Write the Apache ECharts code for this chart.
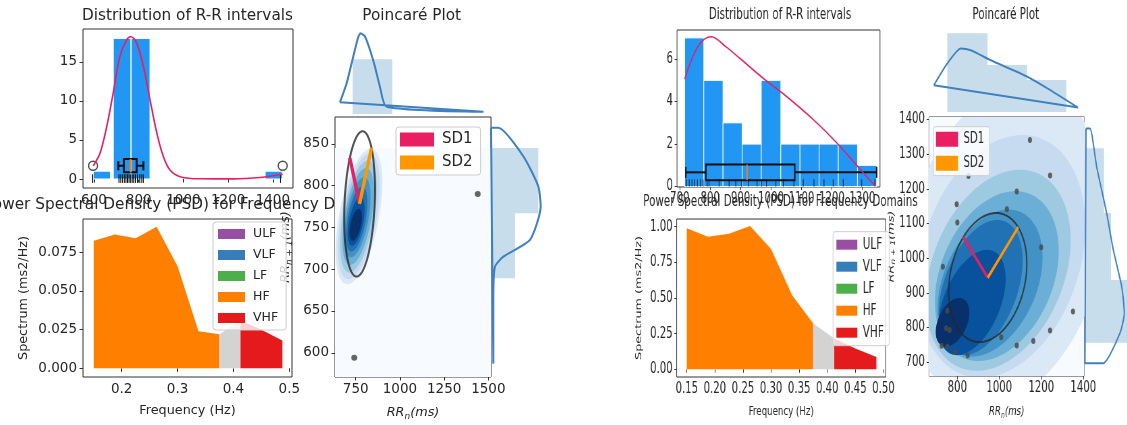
<!DOCTYPE html>
<html>
<head>
<meta charset="utf-8">
<script src="https://cdn.jsdelivr.net/npm/echarts@6.0.0/dist/echarts.min.js"></script>
<style>
    html, body { margin: 0; padding: 0; background: #fff; overflow: hidden; }
    #left  { position: absolute; left: 0; top: 0; width: 600px; height: 425px; }
    /* the right figure is squeezed horizontally, like in the reference */
    #right { position: absolute; left: 600px; top: 0; width: 781px; height: 425px;
             transform: scaleX(0.675); transform-origin: 0 0; }
</style>
</head>
<body>
<div id="left"></div>
<div id="right"></div>
<script>
// ---------- shared ----------
var titles    = ['Distribution of R-R intervals', 'Power Spectral Density (PSD) for Frequency Domains', 'Poincaré Plot'];
var bandNames = ['ULF', 'VLF', 'LF', 'HF', 'VHF'];
var psdFreq   = [0.15, 0.1875, 0.225, 0.2625, 0.30, 0.3375, 0.375, 0.4125, 0.45, 0.4875];
var hfRange   = [0.15, 0.375];
var gapRange  = [0.375, 0.4125];
var vhfRange  = [0.4125, 0.4875];

// ---------- left recording ----------
var aHistBins   = [[597, 674], [686, 766], [766, 851], [1365, 1442]];
var aHistCounts = [1, 18, 18, 1];
var aHistKdeX   = [597, 627, 657, 686, 716, 746, 764, 791, 821, 851, 881, 910, 940, 985, 1074, 1223, 1343, 1444];
var aHistKdeY   = [1.7, 3.3, 6.7, 11.0, 15.7, 17.8, 18.2, 17.4, 14.4, 10.1, 5.9, 2.9, 1.15, 0.3, 0.03, 0.02, 0.2, 0.6];
var aBoxStats   = [709, 734, 764, 791, 821];   // whisker lo, q1, median, q3, whisker hi
var aOutliers   = [596, 1444];
var aRug        = [594, 712, 720, 728, 736, 743, 750, 757, 764, 771, 778, 786, 795, 805, 814, 821, 1434];
var aPsd        = [0.0825, 0.0865, 0.084, 0.0915, 0.066, 0.024, 0.022, 0.031, 0.025, 0.018];
var aRRn        = [742, 1440];
var aRRn1       = [594, 790];
var aSdCenter   = [772, 778];
var aSd         = [78, 95];                    // SD1, SD2
var aLevCx      = [769, 768, 766, 764, 760, 756, 753, 750];
var aLevCy      = [763, 763, 763, 763, 762, 760, 757, 753];
var aLevSx      = [132, 119, 104, 89, 74, 60, 47, 35];
var aLevSy      = [81, 75, 67, 58, 48, 39, 29, 19];
var aLevRho     = [0.5, 0.5, 0.5, 0.5, 0.5, 0.5, 0.5, 0.5];
var aKdeBox     = [633, 1515, 571, 845];
var aTopBins    = [[733, 957]];
var aTopH       = [54.7];
var aTopKdeX    = [661, 699, 736, 765, 778, 803, 831, 859, 887, 925, 1472, 661];
var aTopKdeH    = [11.7, 30.7, 57.3, 77.3, 80.7, 77.3, 64, 47.3, 27.3, 7.3, 2.3, 11.7];
var aSideBins   = [[767, 845], [689, 767]];
var aSideW      = [47.3, 24];
var aSideKdeY   = [869, 869, 835, 799, 775, 735, 715, 703, 663, 587, 869];
var aSideKdeW   = [0, 7.3, 32.3, 47.3, 49.7, 39, 12.3, 4, 2.3, 2.3, 0];
var aHistXTicks = [600, 800, 1000, 1200, 1400];
var aHistYTicks = [0, 5, 10, 15];
var aPsdXTicks  = [0.2, 0.3, 0.4, 0.5];
var aPsdYTicks  = [0, 0.025, 0.05, 0.075];
var aPoiXTicks  = [750, 1000, 1250, 1500];
var aPoiYTicks  = [600, 650, 700, 750, 800, 850];

// ---------- right recording ----------
var bHistBins   = [[716, 779], [779, 842], [842, 905], [905, 968], [968, 1032], [1032, 1095], [1095, 1158], [1158, 1221], [1221, 1284], [1284, 1347]];
var bHistCounts = [7, 5, 3, 2, 5, 2, 2, 2, 2, 1];
var bHistKdeX   = [716, 760, 804, 850, 897, 974, 1051, 1139, 1216, 1293, 1342];
var bHistKdeY   = [5.06, 6.6, 7.05, 6.6, 6.04, 5.1, 4.24, 3.15, 2.06, 0.81, 0.03];
var bBoxStats   = [720, 786, 921, 1078, 1347];
var bOutliers   = [];
var bRug        = [722, 731, 740, 749, 758, 768, 777, 790, 796, 829, 862, 884, 903, 925, 954, 969, 985, 1016, 1040, 1075, 1106, 1141, 1174, 1204, 1237, 1298, 1341];
var bPsd        = [0.99, 0.93, 0.95, 1.005, 0.843, 0.52, 0.322, 0.216, 0.145, 0.087];
var bRRn        = [1146, 1242, 853, 1083, 797, 1036, 800, 1199, 731, 1351, 752, 747, 763, 1242, 1009, 1162, 1083, 725, 752, 789, 849];
var bRRn1       = [1341, 1238, 1237, 1192, 1155, 1141, 1103, 1031, 975, 846, 848, 798, 793, 791, 772, 761, 748, 747, 745, 729, 719];
var bSdCenter   = [945, 944];
var bSd         = [165, 205];
var bLevCx      = [1030, 1010, 995, 988, 956, 911, 870, 777];
var bLevCy      = [1040, 1005, 965, 948, 928, 915, 872, 815];
var bLevSx      = [480, 400, 345, 295, 250, 200, 160, 80];
var bLevSy      = [460, 350, 290, 245, 212, 195, 152, 70];
var bLevRho     = [0.2, 0.25, 0.3, 0.3, 0.35, 0.4, 0.45, 0.4];
var bKdeBox     = [665, 1405, 660, 1407];
var bTopBins    = [[752, 944], [944, 1132], [1132, 1319]];
var bTopH       = [78.7, 47, 32];
var bTopKdeX    = [688, 752, 816, 864, 959, 1119, 1231, 1375, 688];
var bTopKdeH    = [26.7, 48.4, 63.4, 61.7, 51.7, 36.7, 23.4, 4.4, 26.7];
var bSideBins   = [[1130, 1317], [937, 1130], [756, 937]];
var bSideW      = [19, 26, 60];
var bSideKdeY   = [1374, 1374, 1263, 1129, 1024, 918, 841, 784, 697, 697, 1374];
var bSideKdeW   = [1, 5, 11.7, 21.7, 28.3, 36.7, 39.3, 35, 18.3, 0, 1];
var bHistXTicks = [700, 800, 900, 1000, 1100, 1200, 1300];
var bHistYTicks = [0, 2, 4, 6];
var bPsdXTicks  = [0.15, 0.20, 0.25, 0.30, 0.35, 0.40, 0.45, 0.50];
var bPsdYTicks  = [0, 0.25, 0.5, 0.75, 1.0];
var bPoiXTicks  = [800, 1000, 1200, 1400];
var bPoiYTicks  = [700, 800, 900, 1000, 1100, 1200, 1300, 1400];

var FONT = 'DejaVu Sans';
var INK = '#262626';
var BLUES = ['#dbe9f6', '#c6dbef', '#9ecae1', '#6baed6', '#4292c6', '#2171b5', '#08519c', '#08306b'];
var BAND_COLORS = {ULF: '#984ea3', VLF: '#377eb8', LF: '#4daf4a', HF: '#ff7f00', VHF: '#e41a1c'};
var MARG_FILL = 'rgba(31,119,180,0.25)';
var MARG_LINE = '#3f80c0';
var R2 = Math.SQRT1_2;

function zip(xs, ys) { return xs.map(function (x, i) { return [x, ys[i]]; }); }

function vBar(fill, stroke) {
    return function (params, api) {
        var p0 = api.coord([api.value(0), 0]);
        var p1 = api.coord([api.value(1), api.value(2)]);
        return {type: 'rect', shape: {x: p0[0], y: p1[1], width: p1[0] - p0[0], height: p0[1] - p1[1]},
            style: {fill: fill, stroke: stroke, lineWidth: stroke ? 1 : 0}};
    };
}
function hBar(fill) {
    return function (params, api) {
        var p0 = api.coord([0, api.value(0)]);
        var p1 = api.coord([api.value(2), api.value(1)]);
        return {type: 'rect', shape: {x: p0[0], y: p1[1], width: p1[0] - p0[0], height: p0[1] - p1[1]},
            style: {fill: fill}};
    };
}
function bgRect(fill) {
    return function (params, api) {
        var a = api.coord([api.value(0), api.value(3)]);
        var b = api.coord([api.value(1), api.value(2)]);
        return {type: 'rect', shape: {x: a[0], y: a[1], width: b[0] - a[0], height: b[1] - a[1]}, style: {fill: fill}};
    };
}
// filled kde level drawn as a correlated ellipse
function contour(params, api) {
    var cx = api.value(0), cy = api.value(1), sx = api.value(2), sy = api.value(3), rho = api.value(4);
    var q = Math.sqrt(1 - rho * rho), pts = [];
    for (var k = 0; k < 96; k++) {
        var t = k / 96 * 2 * Math.PI;
        pts.push(api.coord([cx + sx * Math.cos(t), cy + sy * (rho * Math.cos(t) + q * Math.sin(t))]));
    }
    return {type: 'polygon', shape: {points: pts}, style: {fill: BLUES[params.dataIndex]}};
}
function sdEllipse(params, api) {
    var cx = api.value(0), cy = api.value(1), s1 = api.value(2), s2 = api.value(3), pts = [];
    for (var k = 0; k <= 120; k++) {
        var t = k / 120 * 2 * Math.PI;
        var a = s2 * Math.cos(t) * R2, b = s1 * Math.sin(t) * R2;
        pts.push(api.coord([cx + a - b, cy + a + b]));
    }
    return {type: 'polyline', shape: {points: pts}, style: {stroke: 'rgba(40,40,40,0.8)', lineWidth: 2, fill: null}};
}
function boxItem(yc, hh) {
    return function (params, api) {
        var lo = api.value(0), q1 = api.value(1), md = api.value(2), q3 = api.value(3), hi = api.value(4);
        var st = {stroke: '#111', lineWidth: 2};
        function seg(x1, y1, x2, y2, s) {
            var a = api.coord([x1, y1]), b = api.coord([x2, y2]);
            return {type: 'line', shape: {x1: a[0], y1: a[1], x2: b[0], y2: b[1]}, style: s || st};
        }
        var a = api.coord([q1, yc + hh]), b = api.coord([q3, yc - hh]);
        return {type: 'group', children: [
            seg(lo, yc, q1, yc), seg(q3, yc, hi, yc),
            seg(lo, yc - hh * 0.7, lo, yc + hh * 0.7), seg(hi, yc - hh * 0.7, hi, yc + hh * 0.7),
            {type: 'rect', shape: {x: a[0], y: a[1], width: b[0] - a[0], height: b[1] - a[1]},
                style: {stroke: '#111', lineWidth: 2, fill: 'none'}},
            seg(md, yc - hh, md, yc + hh, {stroke: '#ff7f0e', lineWidth: 2})
        ]};
    };
}
function rugItem(r0, r1) {
    return function (params, api) {
        var a = api.coord([api.value(0), r0]), b = api.coord([api.value(0), r1]);
        return {type: 'line', shape: {x1: a[0], y1: a[1], x2: b[0], y2: b[1]}, style: {stroke: '#111', lineWidth: 1}};
    };
}

function build(F, L) {
    var grids = [L.hist, L.psd, L.poi, L.top, L.side].map(function (g, i) {
        return {left: g[0], top: g[1], width: g[2], height: g[3], show: i < 3,
            borderColor: '#333', borderWidth: 1, backgroundColor: '#fff',
            containLabel: false, outerBoundsMode: 'none'};
    });
    var nameStyle = {fontFamily: FONT, fontSize: 12.8, color: INK};
    var rrStyle = {fontFamily: FONT, fontSize: 12.8, color: INK, rich: {
        i: {fontFamily: FONT, fontStyle: 'italic', fontSize: 12.8, color: INK, lineHeight: 18},
        s: {fontFamily: FONT, fontStyle: 'italic', fontSize: 9, color: INK, padding: [7, 0, 0, 0], lineHeight: 18}
    }};
    function ax(gi, range, ticks, fmt, isY, name, gap, nstyle) {
        var o = {type: 'value', gridIndex: gi, min: range[0], max: range[1],
            axisLine: {show: false},
            axisTick: {show: true, customValues: ticks, length: 3.5, lineStyle: {color: '#333', width: 1}},
            axisLabel: {customValues: ticks, formatter: fmt, fontFamily: FONT, fontSize: L.tickSize, color: INK, margin: isY ? 6 : 5},
            splitLine: {show: false}};
        if (name) { o.name = name; o.nameLocation = 'middle'; o.nameGap = gap; o.nameTextStyle = nstyle; }
        return o;
    }
    function hidden(gi, range) {
        return {type: 'value', gridIndex: gi, min: range[0], max: range[1], show: false, splitLine: {show: false}};
    }
    var plain = function (v) { return String(v); };
    var xAxis = [
        ax(0, L.histX, F.histXTicks, plain, false),
        ax(1, L.psdX, F.psdXTicks, function (v) { return v.toFixed(L.psdXDec); }, false, 'Frequency (Hz)', L.freqGap, nameStyle),
        ax(2, L.poiX, F.poiXTicks, plain, false, '{i|RR}{s|n}{i|(ms)}', L.rrXGap, rrStyle),
        hidden(3, L.poiX),
        hidden(4, L.sideX)
    ];
    var yAxis = [
        ax(0, L.histY, F.histYTicks, plain, true),
        ax(1, L.psdY, F.psdYTicks, function (v) { return v.toFixed(L.psdYDec); }, true, 'Spectrum (ms2/Hz)', L.specGap, nameStyle),
        ax(2, L.poiY, F.poiYTicks, plain, true, '{i|RR}{s|n + 1}{i|(ms)}', L.rrYGap, rrStyle),
        hidden(3, L.topY),
        hidden(4, L.poiY)
    ];

    var series = [];
    function on(gi, s) { s.xAxisIndex = gi; s.yAxisIndex = gi; s.silent = true; series.push(s); }

    // histogram of R-R intervals
    on(0, {type: 'custom', renderItem: vBar('#2196F3', '#fff'), clip: true,
        data: F.histBins.map(function (b, i) { return [b[0], b[1], F.histCounts[i]]; })});
    on(0, {type: 'line', data: zip(F.histKdeX, F.histKdeY), smooth: 0.35, symbol: 'none',
        lineStyle: {color: '#E91E63', width: 1.6}});
    on(0, {type: 'custom', renderItem: rugItem(L.rug[0], L.rug[1]), clip: true,
        data: F.rug.map(function (x) { return [x, 0]; })});
    on(0, {type: 'custom', renderItem: boxItem(L.box[0], L.box[1]), clip: true, data: [F.boxStats]});
    on(0, {type: 'scatter', symbolSize: 9, data: F.outliers.map(function (x) { return [x, L.box[0]]; }),
        itemStyle: {color: '#fff', borderColor: '#222', borderWidth: 1.4}});

    // power spectral density
    ['ULF', 'VLF', 'LF'].forEach(function (n) {
        on(1, {name: n, type: 'line', data: [], color: BAND_COLORS[n]});
    });
    function band(name, range, color) {
        var pts = [];
        psdFreq.forEach(function (f, i) { if (f >= range[0] - 1e-9 && f <= range[1] + 1e-9) pts.push([f, F.psd[i]]); });
        on(1, {name: name, type: 'line', data: pts, symbol: 'none', color: color,
            lineStyle: {width: 0}, areaStyle: {color: color, opacity: 1}});
    }
    band('HF', hfRange, BAND_COLORS.HF);
    band('other', gapRange, '#d3d3d3');
    band('VHF', vhfRange, BAND_COLORS.VHF);

    // poincare plot
    on(2, {type: 'custom', renderItem: bgRect('#f7fbff'), clip: true, data: [F.kdeBox]});
    on(2, {type: 'custom', renderItem: contour, clip: true,
        data: F.levCx.map(function (c, i) { return [c, F.levCy[i], F.levSx[i], F.levSy[i], F.levRho[i]]; })});
    on(2, {type: 'scatter', symbolSize: 6, data: zip(F.rrn, F.rrn1),
        itemStyle: {color: '#4a4a4a', opacity: 0.85}});
    on(2, {type: 'custom', renderItem: sdEllipse, clip: true,
        data: [[F.sdCenter[0], F.sdCenter[1], F.sd[0], F.sd[1]]]});
    var c = F.sdCenter;
    on(2, {name: 'SD1', type: 'line', symbol: 'none', color: '#E91E63', lineStyle: {width: 3.3},
        data: [c, [c[0] - F.sd[0] * R2, c[1] + F.sd[0] * R2]]});
    on(2, {name: 'SD2', type: 'line', symbol: 'none', color: '#FF9800', lineStyle: {width: 3.3},
        data: [c, [c[0] + F.sd[1] * R2, c[1] + F.sd[1] * R2]]});

    // marginal distributions
    on(3, {type: 'custom', renderItem: vBar(MARG_FILL, null), clip: false,
        data: F.topBins.map(function (b, i) { return [b[0], b[1], F.topH[i]]; })});
    on(3, {type: 'line', data: zip(F.topKdeX, F.topKdeH), smooth: 0.2, symbol: 'none', clip: false,
        lineStyle: {color: MARG_LINE, width: 2}});
    on(4, {type: 'custom', renderItem: hBar(MARG_FILL), clip: false,
        data: F.sideBins.map(function (b, i) { return [b[0], b[1], F.sideW[i]]; })});
    on(4, {type: 'line', data: zip(F.sideKdeW, F.sideKdeY), smooth: 0.2, symbol: 'none', clip: false,
        lineStyle: {color: MARG_LINE, width: 2}});

    var legendText = function (size, lh) {
        return {fontFamily: FONT, fontSize: size, color: INK, lineHeight: lh, padding: [0, 0, 0, 3]};
    };
    var P = L.psdLegend, Q = L.poiLegend;
    var legend = [
        {data: bandNames.map(function (n) { return {name: n, icon: 'rect'}; }), orient: 'vertical',
            left: P[0], top: P[1], itemWidth: P[2], itemHeight: 10, itemGap: P[3],
            backgroundColor: 'rgba(255,255,255,0.8)', borderColor: '#ccc', borderWidth: 1, borderRadius: 3,
            padding: [5, 8, 5, 5], selectedMode: false, textStyle: legendText(P[4], P[5])},
        {data: [{name: 'SD1', icon: 'rect'}, {name: 'SD2', icon: 'rect'}], orient: 'vertical',
            left: Q[0], top: Q[1], itemWidth: Q[2], itemHeight: Q[3], itemGap: Q[4],
            backgroundColor: 'rgba(255,255,255,0.8)', borderColor: '#ccc', borderWidth: 1, borderRadius: 3,
            padding: [4, 8, 4, 4], selectedMode: false, textStyle: legendText(15, 17)}
    ];

    var graphic = titles.map(function (t, i) {
        return {type: 'text', x: L.titleXY[i][0], y: L.titleXY[i][1], z: -1, silent: true,
            style: {text: t, font: '15.3px "DejaVu Sans"', fill: INK, align: 'center', verticalAlign: 'middle'}};
    });

    return {animation: false, grid: grids, xAxis: xAxis, yAxis: yAxis, series: series, legend: legend, graphic: graphic};
}

var figA = {
    histBins: aHistBins, histCounts: aHistCounts, histKdeX: aHistKdeX, histKdeY: aHistKdeY,
    boxStats: aBoxStats, outliers: aOutliers, rug: aRug, psd: aPsd,
    rrn: aRRn, rrn1: aRRn1, sdCenter: aSdCenter, sd: aSd,
    levCx: aLevCx, levCy: aLevCy, levSx: aLevSx, levSy: aLevSy, levRho: aLevRho, kdeBox: aKdeBox,
    topBins: aTopBins, topH: aTopH, topKdeX: aTopKdeX, topKdeH: aTopKdeH,
    sideBins: aSideBins, sideW: aSideW, sideKdeY: aSideKdeY, sideKdeW: aSideKdeW,
    histXTicks: aHistXTicks, histYTicks: aHistYTicks, psdXTicks: aPsdXTicks, psdYTicks: aPsdYTicks,
    poiXTicks: aPoiXTicks, poiYTicks: aPoiYTicks
};
var figB = {
    histBins: bHistBins, histCounts: bHistCounts, histKdeX: bHistKdeX, histKdeY: bHistKdeY,
    boxStats: bBoxStats, outliers: bOutliers, rug: bRug, psd: bPsd,
    rrn: bRRn, rrn1: bRRn1, sdCenter: bSdCenter, sd: bSd,
    levCx: bLevCx, levCy: bLevCy, levSx: bLevSx, levSy: bLevSy, levRho: bLevRho, kdeBox: bKdeBox,
    topBins: bTopBins, topH: bTopH, topKdeX: bTopKdeX, topKdeH: bTopKdeH,
    sideBins: bSideBins, sideW: bSideW, sideKdeY: bSideKdeY, sideKdeW: bSideKdeW,
    histXTicks: bHistXTicks, histYTicks: bHistYTicks, psdXTicks: bPsdXTicks, psdYTicks: bPsdYTicks,
    poiXTicks: bPoiXTicks, poiYTicks: bPoiYTicks
};

var layoutA = {
    hist: [83, 29, 210, 159], histX: [551, 1490], histY: [-1.15, 19.2],
    psd: [83, 219, 209, 158], psdX: [0.1307, 0.5048], psdY: [-0.0056, 0.0965], psdXDec: 1, psdYDec: 3,
    poi: [335, 117, 156, 260], poiX: [633, 1515], poiY: [571, 882],
    top: [335, 30, 156, 84], topY: [0, 84],
    side: [491, 117, 54, 260], sideX: [0, 54],
    titleXY: [[187.5, 16], [187.5, 205], [411.7, 16]],
    box: [1.7, 0.85], rug: [-0.5, 0.6], tickSize: 13.5,
    freqGap: 27, specGap: 53, rrXGap: 27, rrYGap: 40,
    psdLegend: [213, 222, 27, 7, 12.5, 14], poiLegend: [396, 127, 34, 14, 6]
};
var layoutB = {
    hist: [114.1, 30, 300.7, 157], histX: [691, 1358], histY: [-0.02, 7.37],
    psd: [113.6, 219, 309.6, 158], psdX: [0.132, 0.504], psdY: [-0.054, 1.054], psdXDec: 2, psdYDec: 2,
    poi: [487.4, 117, 230.1, 259], poiX: [665, 1405], poiY: [660, 1407],
    top: [487.4, 30, 230.1, 82], topY: [0, 82],
    side: [718.5, 117, 118.5, 259], sideX: [0, 80],
    titleXY: [[266.7, 15], [267.4, 202.3], [601.2, 15]],
    box: [0.67, 0.37], rug: [0, 0.34], tickSize: 15,
    freqGap: 28, specGap: 49, rrXGap: 27, rrYGap: 45,
    psdLegend: [345.2, 231.7, 31, 6, 15.5, 16], poiLegend: [493.8, 126.7, 32.6, 15, 7]
};

var chartA = echarts.init(document.getElementById('left'));
chartA.setOption(build(figA, layoutA));
var chartB = echarts.init(document.getElementById('right'));
chartB.setOption(build(figB, layoutB));
</script>
</body>
</html>
